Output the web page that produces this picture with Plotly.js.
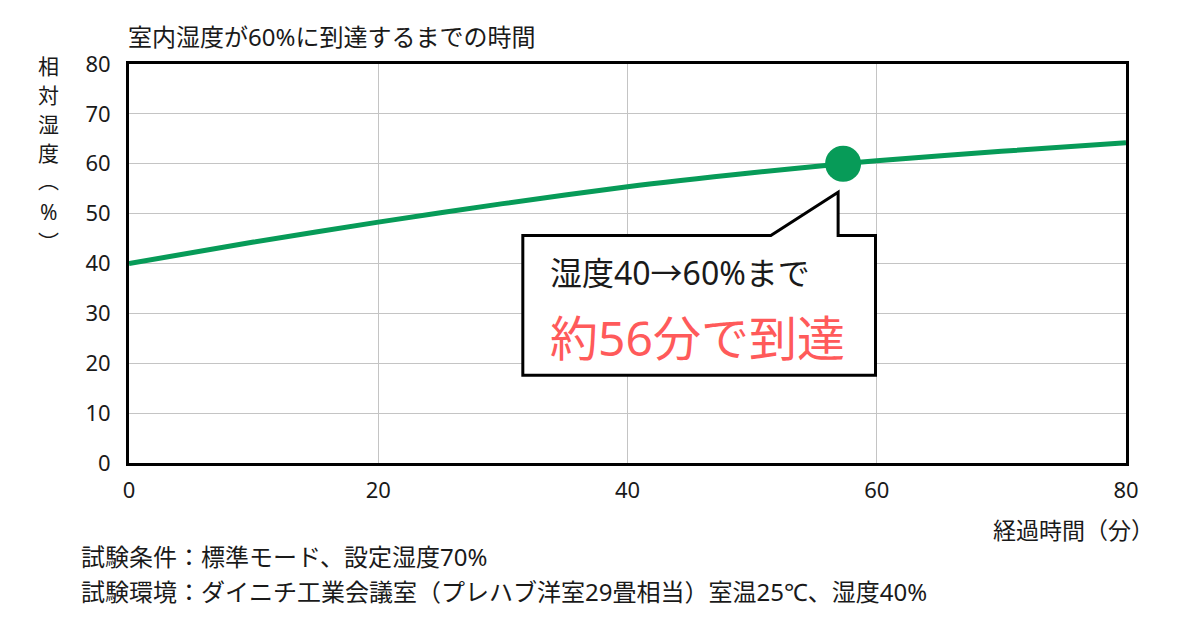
<!DOCTYPE html>
<html>
<head>
<meta charset="utf-8">
<script src="https://cdn.plot.ly/plotly-3.0.1.min.js"></script>
<style>html,body{margin:0;padding:0;background:#fff;}#chart{width:1200px;height:630px;}</style>
</head>
<body>
<div id="chart"></div>
<script>
// Data
const elapsedMinutes = [0, 10, 20, 30, 40, 50, 57.3, 60, 70, 80];
const relativeHumidity = [40, 44.3, 48.3, 52.0, 55.4, 58.2, 60.0, 60.6, 62.5, 64.2];
const reachPointX = [57.3];
const reachPointY = [60];
const xTicks = [0, 20, 40, 60, 80];
const yTicks = [0, 10, 20, 30, 40, 50, 60, 70, 80];

const chartTitle = '室内湿度が60%に到達するまでの時間';
const yTitleChars = ['相', '対', '湿', '度', '︵', '%', '︶'];
const xTitle = '経過時間（分）';
const calloutLine1 = '湿度40→60%まで';
const calloutLine2 = '約56分で到達';
const noteLine1 = '試験条件：標準モード、設定湿度70%';
const noteLine2 = '試験環境：ダイニチ工業会議室（プレハブ洋室29畳相当）室温25℃、湿度40%';

const FONT = '"Noto Sans", "Noto Sans CJK JP", sans-serif';
const GREEN = '#079b58';
const RED = '#ff5a5a';
const TEXT = '#1a1a1a';

const traces = [
  {
    x: elapsedMinutes, y: relativeHumidity, type: 'scatter', mode: 'lines',
    line: {color: GREEN, width: 5, shape: 'spline', smoothing: 0.8},
    hoverinfo: 'skip', showlegend: false
  },
  {
    x: reachPointX, y: reachPointY, type: 'scatter', mode: 'markers',
    marker: {color: GREEN, size: 36}, hoverinfo: 'skip', showlegend: false
  }
];

// callout bubble (data coords, anchored near the reach point)
const bx0 = 31.6, bx1 = 59.9, by0 = 17.6, by1 = 45.6;
const px0 = 51.5, tipX = 56.9, tipY = 54.3;
const calloutPath = `M ${bx0} ${by1} L ${px0} ${by1} L ${tipX} ${tipY} L ${tipX} ${by1} L ${bx1} ${by1} L ${bx1} ${by0} L ${bx0} ${by0} Z`;

// vertical y-axis title, one glyph per annotation (pixel centers)
const yTitleY = [66, 95, 124, 153, 180, 212, 242];
const yTitleAnns = yTitleChars.map((ch, i) => ({
  text: ch, xref: 'paper', yref: 'paper',
  x: (48 - 129) / 997, y: (463 - yTitleY[i]) / 399,
  xanchor: 'center', yanchor: 'middle', showarrow: false,
  font: {family: FONT, size: 21, color: TEXT}
}));

const layout = {
  width: 1200, height: 630,
  margin: {l: 129, r: 74, t: 64, b: 167, pad: 0},
  paper_bgcolor: '#ffffff', plot_bgcolor: '#ffffff',
  font: {family: FONT, color: TEXT, size: 20},
  title: {
    text: chartTitle, font: {family: FONT, size: 24, color: TEXT},
    x: 128 / 1200, xref: 'container', xanchor: 'left',
    y: 1 - 38 / 630, yref: 'container', yanchor: 'middle'
  },
  xaxis: {
    range: [0, 80], tickvals: xTicks, ticktext: xTicks.map(String),
    showgrid: true, gridcolor: '#c4c4c4', gridwidth: 1, zeroline: false,
    showline: true, linecolor: '#000', linewidth: 3, mirror: true,
    ticks: '', ticklabelstandoff: 6,
    tickfont: {family: FONT, size: 22, color: TEXT}, fixedrange: true
  },
  yaxis: {
    range: [0, 80], tickvals: yTicks, ticktext: yTicks.map(String),
    showgrid: true, gridcolor: '#c4c4c4', gridwidth: 1, zeroline: false,
    showline: true, linecolor: '#000', linewidth: 3, mirror: true,
    ticks: '', ticklabelstandoff: 11,
    tickfont: {family: FONT, size: 22, color: TEXT}, fixedrange: true
  },
  shapes: [
    {type: 'path', xref: 'x', yref: 'y', path: calloutPath,
     fillcolor: '#ffffff', line: {color: '#000', width: 3}, layer: 'above'}
  ],
  annotations: yTitleAnns.concat([
    {text: xTitle, xref: 'paper', yref: 'paper',
     x: (1156 - 129) / 997, y: (463 - 530) / 399, xanchor: 'right', yanchor: 'middle',
     showarrow: false, font: {family: FONT, size: 23, color: TEXT}},
    {text: noteLine1, xref: 'paper', yref: 'paper',
     x: (79 - 129) / 997, y: (463 - 556) / 399, xanchor: 'left', yanchor: 'middle',
     showarrow: false, font: {family: FONT, size: 24, color: TEXT}},
    {text: noteLine2, xref: 'paper', yref: 'paper',
     x: (79 - 129) / 997, y: (463 - 591) / 399, xanchor: 'left', yanchor: 'middle',
     showarrow: false, font: {family: FONT, size: 24, color: TEXT}},
    {text: calloutLine1, xref: 'x', yref: 'y', x: 33.6, y: 38.2,
     xanchor: 'left', yanchor: 'middle', showarrow: false,
     font: {family: FONT, size: 32, color: TEXT}},
    {text: calloutLine2, xref: 'x', yref: 'y', x: 33.6, y: 25.2,
     xanchor: 'left', yanchor: 'middle', showarrow: false,
     font: {family: FONT, size: 48, color: RED}}
  ])
};

Plotly.newPlot('chart', traces, layout, {displayModeBar: false, staticPlot: true});
</script>
</body>
</html>
